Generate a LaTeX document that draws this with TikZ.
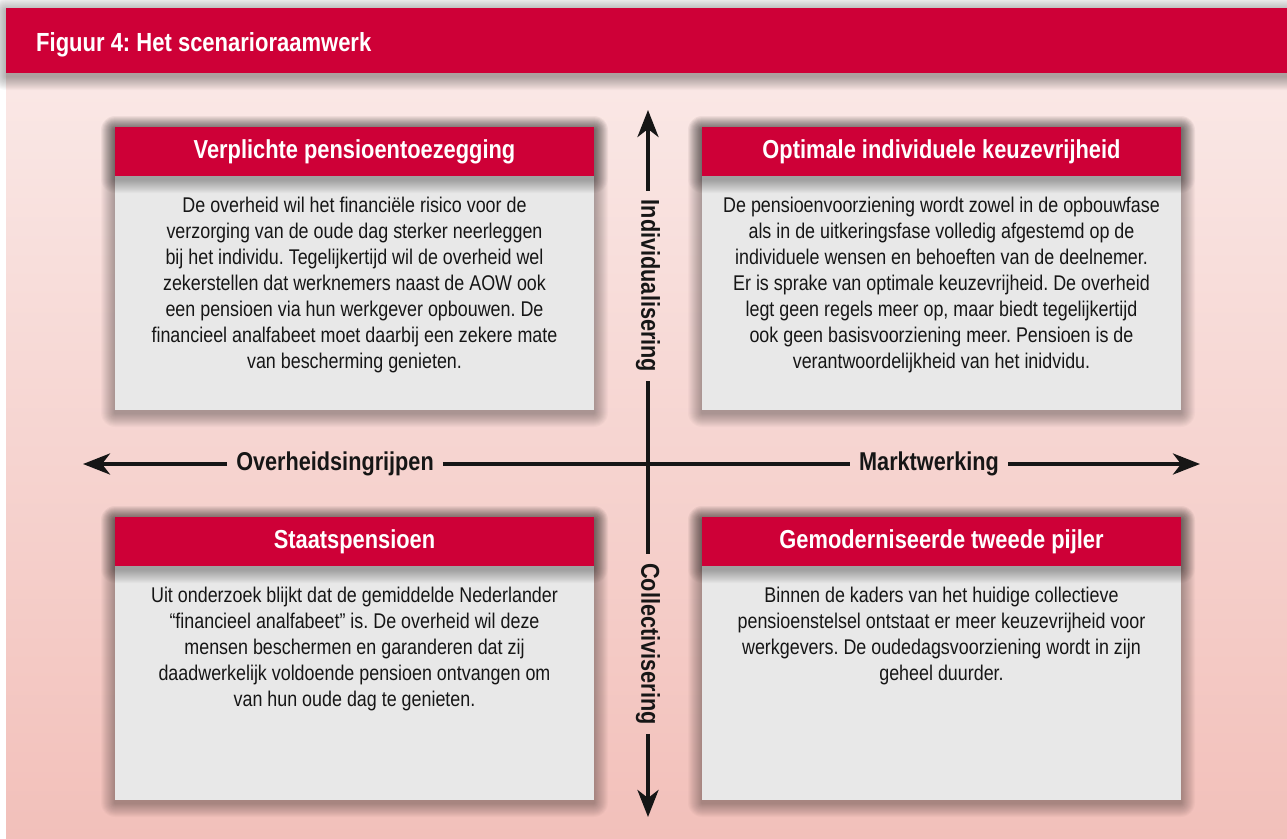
\documentclass[tikz,border=0pt]{standalone}
\usepackage{fontspec}
\setmainfont{Liberation Sans}[FakeStretch=0.84]
\usetikzlibrary{arrows.meta}
\frenchspacing

\definecolor{brandred}{RGB}{206,0,55}
\definecolor{boxgrey}{RGB}{232,232,232}
\definecolor{bgtop}{RGB}{250,232,230}
\definecolor{bgbottom}{RGB}{242,192,186}
\definecolor{ink}{RGB}{22,22,22}

% soft drop shadow: stacked translucent rounded rectangles, shifted down
\newcommand\dropshade[4]{%
  \foreach \i in {1,...,14}{%
    \fill[black, opacity=0.022, rounded corners=\i pt]
      ({#1-\i},{#2-\i+3}) rectangle ({#3+\i},{#4+\i+3});
  }%
}

\tikzset{
  panelbody/.style={fill=boxgrey, minimum width=479pt, minimum height=234pt,
      inner sep=0pt},
  panelhead/.style={fill=brandred, text=white, minimum width=479pt,
      minimum height=49pt, inner sep=0pt,
      font=\bfseries\fontsize{26}{28}\selectfont},
  paneltext/.style={anchor=north, inner sep=0pt, align=center, text=ink,
      font=\fontsize{21.3}{26}\selectfont},
  axislabel/.style={text=ink, inner xsep=9pt, inner ysep=2pt,
      font=\bfseries\fontsize{25.8}{28}\selectfont},
  axisline/.style={draw=ink, line width=4pt},
  axistip/.style={-{Stealth[length=27pt, width=21pt, inset=8pt]}}
}

\begin{document}
\begin{tikzpicture}[x=1pt, y=-1pt]
\useasboundingbox (0,0) rectangle (1287,838);

% page background and title bar
\shade[top color=bgtop, bottom color=bgbottom] (6,73) rectangle (1287,838);
\dropshade{6}{8}{1300}{73}
\node[fill=brandred, minimum width=1300pt, minimum height=65pt, inner sep=0pt,
      anchor=north west] (titlebar) at (6,8) {};
\node[anchor=base west, inner sep=0pt, text=white,
      font=\bfseries\fontsize{26.2}{28}\selectfont] (title) at (36,51)
      {Figuur 4: Het scenarioraamwerk};

% the four scenario panels
\dropshade{115}{127}{594}{410}
\node[panelbody] (tlbody) at (354.5,293) {};
\dropshade{115}{127}{594}{176}
\node[panelhead] (tlhead) at (354.5,151.5) {Verplichte pensioentoezegging};
\node[paneltext] (tltext) at (354.5,197) {De overheid wil het financiële risico voor de\\
verzorging van de oude dag sterker neerleggen\\
bij het individu. Tegelijkertijd wil de overheid wel\\
zekerstellen dat werknemers naast de AOW ook\\
een pensioen via hun werkgever opbouwen. De\\
financieel analfabeet moet daarbij een zekere mate\\
van bescherming genieten.};

\dropshade{702}{127}{1181}{410}
\node[panelbody] (trbody) at (941.5,293) {};
\dropshade{702}{127}{1181}{176}
\node[panelhead] (trhead) at (941.5,151.5) {Optimale individuele keuzevrijheid};
\node[paneltext] (trtext) at (941.5,197) {De pensioenvoorziening wordt zowel in de opbouwfase\\
als in de uitkeringsfase volledig afgestemd op de\\
individuele wensen en behoeften van de deelnemer.\\
Er is sprake van optimale keuzevrijheid. De overheid\\
legt geen regels meer op, maar biedt tegelijkertijd\\
ook geen basisvoorziening meer. Pensioen is de\\
verantwoordelijkheid van het inidvidu.};

\dropshade{115}{517}{594}{800}
\node[panelbody] (blbody) at (354.5,683) {};
\dropshade{115}{517}{594}{566}
\node[panelhead] (blhead) at (354.5,541.5) {Staatspensioen};
\node[paneltext] (bltext) at (354.5,587) {Uit onderzoek blijkt dat de gemiddelde Nederlander\\
“financieel analfabeet” is. De overheid wil deze\\
mensen beschermen en garanderen dat zij\\
daadwerkelijk voldoende pensioen ontvangen om\\
van hun oude dag te genieten.};

\dropshade{702}{517}{1181}{800}
\node[panelbody] (brbody) at (941.5,683) {};
\dropshade{702}{517}{1181}{566}
\node[panelhead] (brhead) at (941.5,541.5) {Gemoderniseerde tweede pijler};
\node[paneltext] (brtext) at (941.5,587) {Binnen de kaders van het huidige collectieve\\
pensioenstelsel ontstaat er meer keuzevrijheid voor\\
werkgevers. De oudedagsvoorziening wordt in zijn\\
geheel duurder.};

% axes
\coordinate (uptip) at (648,110);
\coordinate (downtip) at (648,817);
\coordinate (lefttip) at (83,464);
\coordinate (righttip) at (1200,464);
\node[axislabel, rotate=-90] (indiv) at (648,286) {Individualisering};
\node[axislabel, rotate=-90] (coll) at (648,644) {Collectivisering};
\node[axislabel] (overh) at (335,464) {Overheidsingrijpen};
\node[axislabel] (markt) at (929,464) {Marktwerking};

\draw[axisline, axistip] (indiv) -- (uptip);
\draw[axisline] (indiv) -- (coll);
\draw[axisline, axistip] (coll) -- (downtip);
\draw[axisline, axistip] (overh) -- (lefttip);
\draw[axisline] (overh) -- (markt);
\draw[axisline, axistip] (markt) -- (righttip);
\end{tikzpicture}
\end{document}
